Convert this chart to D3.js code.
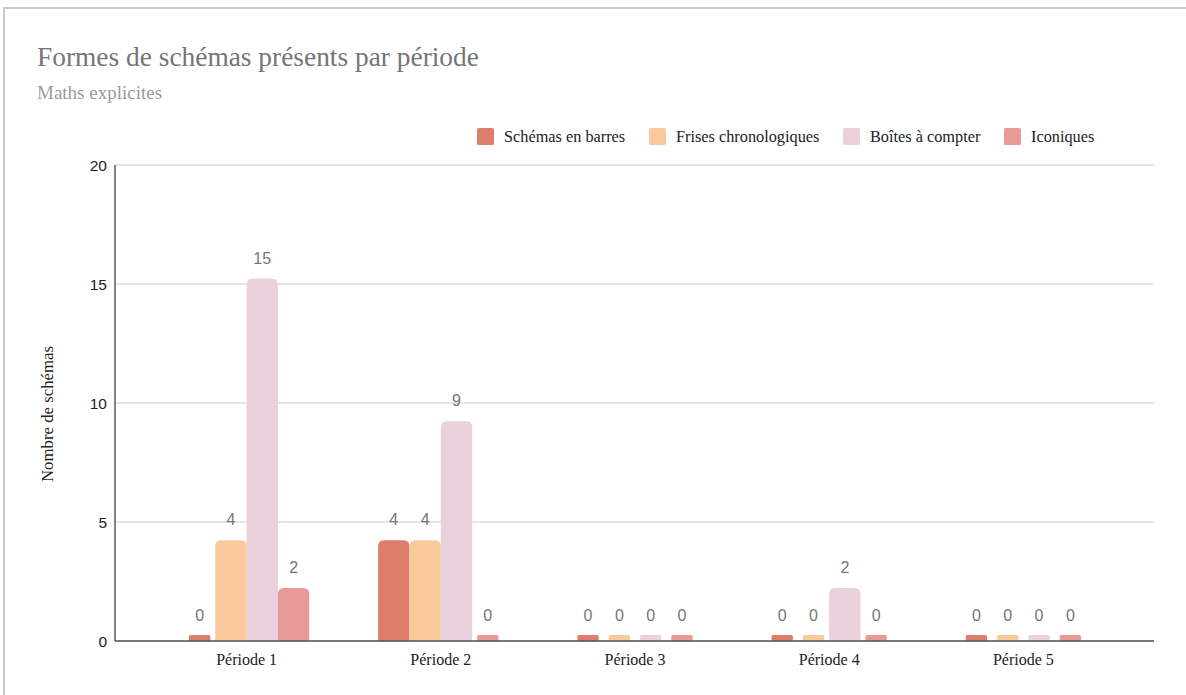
<!DOCTYPE html>
<html><head><meta charset="utf-8">
<script src="https://cdn.jsdelivr.net/npm/d3@7"></script>
<style>
html,body{margin:0;padding:0;background:#fff;}
svg{display:block;}
</style></head>
<body>
<svg id="chart" width="1186" height="695"></svg>
<script>
const categories = ["Période 1", "Période 2", "Période 3", "Période 4", "Période 5"];
const seriesNames = ["Schémas en barres", "Frises chronologiques", "Boîtes à compter", "Iconiques"];
const schemasEnBarres = [0, 4, 0, 0, 0];
const frisesChrono = [4, 4, 0, 0, 0];
const boitesACompter = [15, 9, 0, 2, 0];
const iconiques = [2, 0, 0, 0, 0];
const yTicks = [0, 5, 10, 15, 20];
const colors = ["#dd7e6b", "#f9cb9c", "#ead1dc", "#ea9999"];
const seriesValues = [schemasEnBarres, frisesChrono, boitesACompter, iconiques];

const svg = d3.select("#chart");
const W = 1186, H = 695;
const plot = {left: 115, right: 1154, top: 165, bottom: 641};

// frame
svg.append("path").attr("d", `M4,${H} L4,8 L${W},8`).attr("fill", "none")
  .attr("stroke", "#c8c8c8").attr("stroke-width", 2);

// title
svg.append("text").attr("x", 37).attr("y", 66).text("Formes de schémas présents par période")
  .attr("font-family", "'Liberation Serif', 'Times New Roman', serif").attr("font-size", 27.4).attr("fill", "#757575");
svg.append("text").attr("x", 37).attr("y", 99).text("Maths explicites")
  .attr("font-family", "'Liberation Serif', 'Times New Roman', serif").attr("font-size", 19).attr("fill", "#9a9a9a");

const y = d3.scaleLinear().domain([0, 20]).range([plot.bottom, plot.top]);
const x0 = d3.scaleBand().domain(categories).range([149.5, 1120.5]).padding(0);
const x1 = d3.scaleBand().domain(seriesNames).range([0, x0.bandwidth()]).paddingInner(0).paddingOuter(1.1);

// gridlines
svg.append("g").selectAll("line").data(yTicks).join("line")
  .attr("x1", plot.left).attr("x2", plot.right)
  .attr("y1", d => y(d)).attr("y2", d => y(d))
  .attr("stroke", "#cccccc").attr("stroke-width", 1);

// y tick labels
svg.append("g").selectAll("text").data(yTicks).join("text")
  .attr("x", 107).attr("y", d => y(d) + 5.5).attr("text-anchor", "end")
  .attr("font-family", "'Liberation Sans', Arial, sans-serif").attr("font-size", 15.5).attr("fill", "#222")
  .text(d => d);

// y axis title
svg.append("text").attr("transform", "translate(53,414) rotate(-90)").attr("text-anchor", "middle")
  .attr("font-family", "'Liberation Serif', 'Times New Roman', serif").attr("font-size", 16.8).attr("fill", "#222")
  .text("Nombre de schémas");

// bars
const stub = 5.5;
function barPath(x, w, top, bottom, r) {
  r = Math.min(r, w / 2, (bottom - top));
  return `M${x},${bottom} L${x},${top + r} Q${x},${top} ${x + r},${top} L${x + w - r},${top} Q${x + w},${top} ${x + w},${top + r} L${x + w},${bottom} Z`;
}
const barsData = [];
categories.forEach((c, ci) => {
  seriesNames.forEach((s, si) => {
    barsData.push({cat: c, ser: s, si, v: seriesValues[si][ci]});
  });
});
const g = svg.append("g");
g.selectAll("path").data(barsData).join("path")
  .attr("fill", d => colors[d.si])
  .attr("d", d => {
    const bx = x0(d.cat) + x1(d.ser);
    const bw = x1.bandwidth();
    if (d.v === 0) {
      const w = bw * 0.68;
      return barPath(bx + (bw - w) / 2, w, y(0) - stub - 0.5, y(0), 1.5);
    }
    return barPath(bx, bw, y(d.v) - stub, y(0), 6);
  });

// value labels
g.selectAll("text").data(barsData).join("text")
  .attr("x", d => x0(d.cat) + x1(d.ser) + x1.bandwidth() / 2)
  .attr("y", d => y(d.v) - stub - 15)
  .attr("text-anchor", "middle")
  .attr("font-family", "'Liberation Sans', Arial, sans-serif").attr("font-size", 16).attr("fill", "#757575")
  .text(d => d.v);

// axes lines
svg.append("line").attr("x1", plot.left).attr("x2", plot.left).attr("y1", plot.top).attr("y2", plot.bottom)
  .attr("stroke", "#333").attr("stroke-width", 1.2);
svg.append("line").attr("x1", plot.left).attr("x2", plot.right).attr("y1", plot.bottom).attr("y2", plot.bottom)
  .attr("stroke", "#555").attr("stroke-width", 1.6);

// category labels
svg.append("g").selectAll("text").data(categories).join("text")
  .attr("x", d => x0(d) + x0.bandwidth() / 2).attr("y", 665).attr("text-anchor", "middle")
  .attr("font-family", "'Liberation Serif', 'Times New Roman', serif").attr("font-size", 16).attr("fill", "#222")
  .text(d => d);

// legend
const legendX = [477, 649, 843, 1004];
const lg = svg.append("g").selectAll("g").data(seriesNames).join("g")
  .attr("transform", (d, i) => `translate(${legendX[i]},128)`);
lg.append("rect").attr("width", 17).attr("height", 17).attr("rx", 1.5).attr("fill", (d, i) => colors[i]);
lg.append("text").attr("x", 27).attr("y", 14)
  .attr("font-family", "'Liberation Serif', 'Times New Roman', serif").attr("font-size", 16.3).attr("fill", "#222")
  .text(d => d);
</script>
</body></html>
